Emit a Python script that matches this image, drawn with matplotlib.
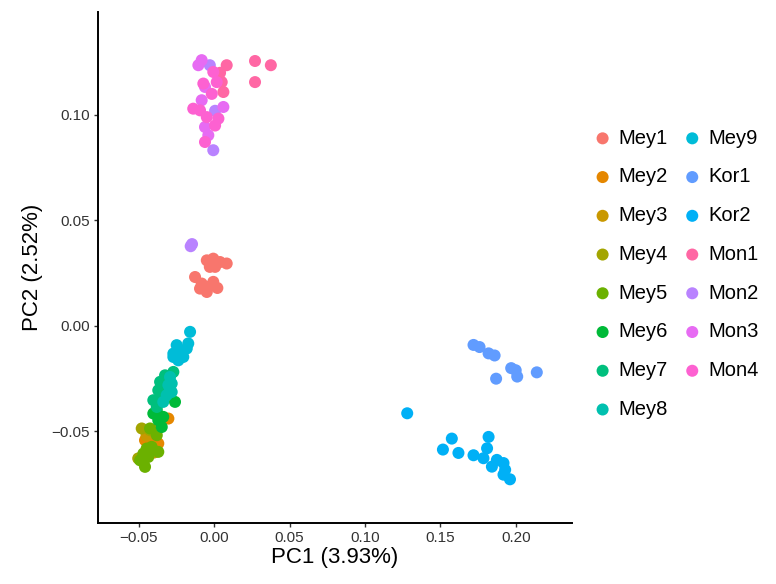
import matplotlib.pyplot as plt

plt.rcParams['font.family'] = ['Liberation Sans', 'DejaVu Sans']

# group names and colours (legend order)
groups = ['Mey1', 'Mey2', 'Mey3', 'Mey4', 'Mey5', 'Mey6', 'Mey7', 'Mey8', 'Mey9',
          'Kor1', 'Kor2', 'Mon1', 'Mon2', 'Mon3', 'Mon4']
colors = ['#F8766D', '#E58700', '#C99800', '#A3A500', '#6BB100', '#00BA38', '#00BF7D',
          '#00C0AF', '#00BCD8', '#619CFF', '#00B0F6', '#FF67A4', '#B983FF', '#E76BF3', '#FD61D1']

# PC1 / PC2 values
pc1 = {
    'Mey1': [-0.005, -0.0007, 0.0038, 0.0082, 0.0005, -0.0128, -0.0084, -0.004, -0.0007, -0.005, -0.0095, 0.000, -0.003, 0.002],
    'Mey2': [-0.0305, -0.0372, -0.046, -0.0416, -0.0372, -0.0394, -0.0427],
    'Mey3': [-0.046, -0.045, -0.040],
    'Mey4': [-0.0482, -0.0505, -0.0427],
    'Mey5': [-0.0427, -0.0382, -0.0449, -0.0372, -0.0493, -0.046, -0.0438, -0.0416, -0.0471],
    'Mey6': [-0.0261, -0.0382, -0.0339, -0.0372, -0.0349, -0.0405],
    'Mey7': [-0.0272, -0.0327, -0.036, -0.0372, -0.0405, -0.0382, -0.0349, -0.0305],
    'Mey8': [-0.0294, -0.0283, -0.0294, -0.0316, -0.0339, -0.0283, -0.0305],
    'Mey9': [-0.0161, -0.0173, -0.025, -0.0272, -0.0216, -0.0183, -0.0239, -0.0206, -0.0272],
    'Kor1': [0.172, 0.176, 0.182, 0.186, 0.187, 0.197, 0.200, 0.201, 0.214],
    'Kor2': [0.1576, 0.1517, 0.162, 0.172, 0.182, 0.181, 0.1786, 0.1842, 0.1875, 0.1919, 0.193, 0.1919, 0.1962, 0.128],
    'Mon1': [0.027, 0.0375, 0.027, 0.0082, 0.0049, 0.006, 0.0038],
    'Mon2': [-0.0007, -0.003, 0.0005, -0.0157, -0.0148],
    'Mon3': [-0.0084, -0.0106, 0.006, -0.0062, -0.004, -0.0084, -0.0062],
    'Mon4': [-0.014, -0.0062, -0.0007, -0.005, 0.0005, -0.0095, -0.0017, 0.0016, -0.0073, 0.0027],
}
pc2 = {
    'Mey1': [0.0311, 0.0319, 0.0303, 0.0296, 0.028, 0.0232, 0.0201, 0.0185, 0.0209, 0.0161, 0.0177, 0.030, 0.028, 0.018],
    'Mey2': [-0.0439, -0.0486, -0.0542, -0.0534, -0.0557, -0.0589, -0.0557],
    'Mey3': [-0.061, -0.052, -0.060],
    'Mey4': [-0.0486, -0.0628, -0.0494],
    'Mey5': [-0.0486, -0.0518, -0.0581, -0.0597, -0.0637, -0.0668, -0.0621, -0.0573, -0.0605],
    'Mey6': [-0.036, -0.04, -0.0431, -0.0447, -0.0479, -0.0415],
    'Mey7': [-0.0218, -0.0234, -0.0265, -0.0305, -0.0352, -0.0384, -0.0336, -0.0289],
    'Mey8': [-0.0242, -0.0273, -0.0305, -0.0328, -0.036, -0.0313, -0.028],
    'Mey9': [-0.0028, -0.0083, -0.0091, -0.0131, -0.0123, -0.0107, -0.0163, -0.0147, -0.0147],
    'Kor1': [-0.009, -0.010, -0.013, -0.014, -0.025, -0.020, -0.021, -0.024, -0.022],
    'Kor2': [-0.0534, -0.0586, -0.0602, -0.0613, -0.0526, -0.058, -0.0627, -0.0667, -0.0635, -0.065, -0.0682, -0.0705, -0.0727, -0.0414],
    'Mon1': [0.1256, 0.1236, 0.1156, 0.1236, 0.1156, 0.1109, 0.120],
    'Mon2': [0.0833, 0.1236, 0.102, 0.0378, 0.0388],
    'Mon3': [0.126, 0.1236, 0.1038, 0.0943, 0.0904, 0.107, 0.1133],
    'Mon4': [0.103, 0.0872, 0.1204, 0.099, 0.095, 0.1022, 0.110, 0.1156, 0.1149, 0.0983],
}

fig = plt.figure(figsize=(7.76, 5.84), dpi=100)
ax = fig.add_axes([0.1263, 0.1045, 0.6107, 0.8745])

for g, c in zip(groups, colors):
    ax.scatter(pc1[g], pc2[g], s=75, color=c, edgecolors='none', label=g)

ax.set_xlim(-0.0772, 0.2373)
ax.set_ylim(-0.0934, 0.1487)
ax.set_xticks([-0.05, 0.00, 0.05, 0.10, 0.15, 0.20])
ax.set_xticklabels(['\u22120.05', '0.00', '0.05', '0.10', '0.15', '0.20'])
ax.set_yticks([-0.05, 0.00, 0.05, 0.10])
ax.set_yticklabels(['\u22120.05', '0.00', '0.05', '0.10'])

for side in ['top', 'right']:
    ax.spines[side].set_visible(False)
for side in ['left', 'bottom']:
    ax.spines[side].set_linewidth(1.4)
    ax.spines[side].set_color('black')
ax.tick_params(direction='out', length=3, width=1, color='#333333',
               labelsize=11, labelcolor='#333333', pad=3)

ax.set_xlabel('PC1 (3.93%)', fontsize=16, labelpad=1)
ax.set_ylabel('PC2 (2.52%)', fontsize=16, labelpad=6)

ax.legend(loc='upper left', bbox_to_anchor=(0.748, 0.797), bbox_transform=fig.transFigure,
          ncol=2, frameon=False, fontsize=14.5, labelspacing=0.98, handletextpad=0.2,
          columnspacing=0.6, borderpad=0, handlelength=1.2)

fig.savefig('out.png', dpi=100)
